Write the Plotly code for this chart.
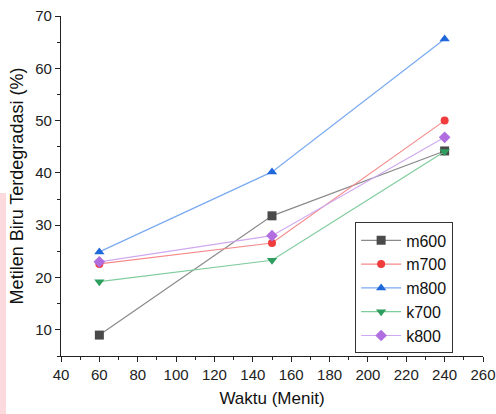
import plotly.graph_objects as go

x_vals = [60, 150, 240]
m600 = [9.0, 31.8, 44.2]
m700 = [22.6, 26.6, 50.0]
m800 = [24.9, 40.2, 65.6]
k700 = [19.2, 23.3, 44.1]
k800 = [23.0, 28.0, 46.8]

series_names = ["m600", "m700", "m800", "k700", "k800"]
series_values = [m600, m700, m800, k700, k800]
marker_colors = ["#4a4a4a", "#f03c3c", "#1f68dc", "#2e9e5e", "#b06ee0"]
line_colors = ["#8a8a8a", "#f58a8a", "#7aaaf0", "#7fcc9c", "#cfaaf0"]
symbols = ["square", "circle", "triangle-up", "triangle-down", "diamond"]

fig = go.Figure()
for name, vals, mc, lc, sym in zip(series_names, series_values, marker_colors, line_colors, symbols):
    fig.add_trace(go.Scatter(
        x=x_vals, y=vals, name=name, mode="lines+markers",
        line=dict(color=lc, width=1.2),
        marker=dict(color=mc, symbol=sym, size=9 if sym != "circle" else 8),
    ))

FONT = "Liberation Sans, Arial"
axis_font = dict(family=FONT, size=15, color="#222222")
fig.update_layout(
    width=496, height=414,
    margin=dict(l=61, r=13, t=16, b=58, autoexpand=False),
    paper_bgcolor="white", plot_bgcolor="white",
    font=dict(family=FONT, color="#111111"),
    xaxis=dict(
        range=[40, 260], tickvals=list(range(40, 261, 20)), automargin=False,
        showline=True, linecolor="#222222", linewidth=1.3,
        ticks="outside", ticklen=5, tickcolor="#222222",
        minor=dict(ticks="outside", ticklen=3, dtick=10, tickcolor="#222222"),
        showgrid=False, zeroline=False, tickfont=axis_font, ticklabeloverflow="allow",
        title=dict(text="Waktu (Menit)", font=dict(family=FONT, size=17, color="#111111"), standoff=9),
    ),
    yaxis=dict(
        range=[5, 70], tickvals=list(range(10, 71, 10)), automargin=False,
        showline=True, linecolor="#222222", linewidth=1.3,
        ticks="outside", ticklen=5, tickcolor="#222222",
        minor=dict(ticks="outside", ticklen=3, tickvals=list(range(5, 70, 10)), tickcolor="#222222"),
        showgrid=False, zeroline=False, tickfont=axis_font, ticklabeloverflow="allow",
        title=dict(text="Metilen Biru Terdegradasi (%)", font=dict(family=FONT, size=18, color="#111111"), standoff=6),
    ),
    legend=dict(
        x=0.697, y=0.393, xanchor="left", yanchor="top",
        bordercolor="#333333", borderwidth=1, bgcolor="white",
        font=dict(family=FONT, size=16, color="#111111"),
        tracegroupgap=0, itemwidth=40,
    ),
    showlegend=True,
)
fig.add_shape(type="rect", xref="paper", yref="paper",
              x0=-61 / 422, x1=-55 / 422, y0=-58 / 340, y1=(356 - 193) / 340,
              fillcolor="#fcd9dd", line=dict(width=0), layer="below")
fig.write_html("out.html", config={"displayModeBar": False},
               post_script="document.body.style.margin='0';")
